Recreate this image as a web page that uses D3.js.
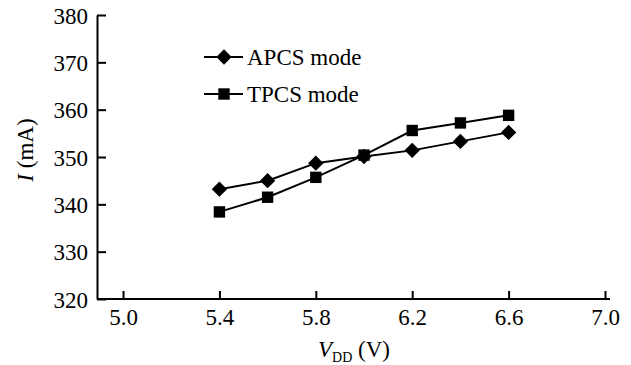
<!DOCTYPE html>
<html>
<head>
<meta charset="utf-8">
<script src="https://cdn.jsdelivr.net/npm/d3@7"></script>
</head>
<body style="margin:0; background:#fff">
<div id="chart"></div>
<script>
let vdd = [5.4, 5.6, 5.8, 6.0, 6.2, 6.4, 6.6];
let apcs = [343.2, 345.0, 348.7, 350.1, 351.4, 353.3, 355.2];
let tpcs = [338.4, 341.5, 345.7, 350.4, 355.6, 357.2, 358.8];
let seriesNames = ["APCS mode", "TPCS mode"];
let xTicks = [5.0, 5.4, 5.8, 6.2, 6.6, 7.0];
let yTicks = [320, 330, 340, 350, 360, 370, 380];

let w = 631, h = 365;
let font = "Liberation Serif";
let svg = d3.select("#chart").append("svg")
    .attr("width", w)
    .attr("height", h)
    .attr("font-family", font)
    .attr("font-size", 23);

let x = d3.scaleLinear().domain([4.892, 7.0]).range([97, 605]);
let y = d3.scaleLinear().domain([320, 380]).range([299, 15]);

// axes
let xAxis = svg.append("g")
    .attr("transform", `translate(0, ${y(320)})`)
    .call(d3.axisBottom(x).tickValues(xTicks).tickFormat(d3.format(".1f")).tickSizeInner(-8).tickSizeOuter(0).tickPadding(10));
xAxis.select(".domain").attr("d", `M${x.range()[0]},0H610`);
let yAxis = svg.append("g")
    .attr("transform", `translate(${x(4.892)}, 0)`)
    .call(d3.axisLeft(y).tickValues(yTicks).tickSizeInner(-9).tickSizeOuter(0).tickPadding(9));
[xAxis, yAxis].forEach(a => {
    a.attr("font-family", font).attr("font-size", 23);
    a.select(".domain").attr("stroke", "#000").attr("stroke-width", 2);
    a.selectAll(".tick line").attr("stroke", "#000").attr("stroke-width", 2);
    a.selectAll(".tick text").attr("fill", "#000");
});
yAxis.selectAll(".tick text").attr("dy", "0.36em");

// axis titles
let xt = svg.append("text")
    .attr("x", 318)
    .attr("y", 357);
xt.append("tspan").attr("font-style", "italic").text("V");
xt.append("tspan").attr("font-size", 14).attr("dy", 5).text("DD");
xt.append("tspan").attr("dy", -5).text(" (V)");

let yt = svg.append("text")
    .attr("transform", "translate(33, 150) rotate(-90)")
    .attr("text-anchor", "middle");
yt.append("tspan").attr("font-style", "italic").text("I");
yt.append("tspan").text(" (mA)");

let line = d3.line().x((d, i) => x(vdd[i])).y(d => y(d));
let diamond = d3.symbol().type(d3.symbolDiamond2).size(150);
let square = d3.symbol().type(d3.symbolSquare).size(130);

function drawSeries(vals, sym) {
    svg.append("path")
        .attr("d", line(vals))
        .attr("fill", "none")
        .attr("stroke", "#000")
        .attr("stroke-width", 2);
    svg.selectAll(null)
        .data(vals)
        .enter()
        .append("path")
        .attr("d", sym)
        .attr("transform", (d, i) => `translate(${x(vdd[i])}, ${y(d)})`)
        .attr("fill", "#000");
}
drawSeries(apcs, diamond);
drawSeries(tpcs, square);

// legend
let legend = svg.append("g").attr("transform", "translate(204, 57)");
[diamond, square].forEach((sym, i) => {
    let g = legend.append("g").attr("transform", `translate(0, ${i * 37})`);
    g.append("line").attr("x1", 0).attr("x2", 39).attr("stroke", "#000").attr("stroke-width", 2);
    g.append("path").attr("d", sym).attr("transform", "translate(20, 0)").attr("fill", "#000");
    g.append("text").attr("x", 43).attr("dy", "0.35em").text(seriesNames[i]);
});
</script>
</body>
</html>
